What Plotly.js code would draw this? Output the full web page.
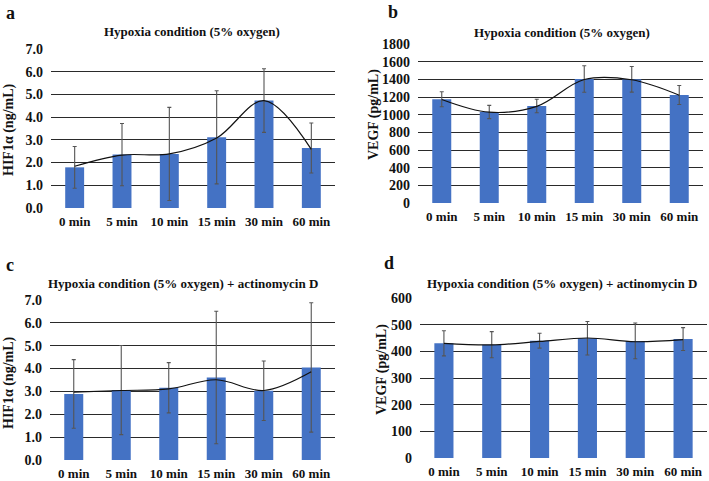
<!DOCTYPE html>
<html>
<head>
<meta charset="utf-8">
<script src="https://cdn.plot.ly/plotly-3.0.1.min.js"></script>
<style>
  html, body { margin: 0; padding: 0; background: #fff; }
  #plot { width: 709px; height: 481px; }
</style>
</head>
<body>
<div id="plot"></div>
<script>
// time points shared by all four panels
const times = ['0 min', '5 min', '10 min', '15 min', '30 min', '60 min'];

// a: HIF1a, hypoxia
const hifA = [1.79, 2.35, 2.38, 3.11, 4.73, 2.64];
const hifAErr = [0.92, 1.37, 2.05, 2.05, 1.40, 1.10];
const hifALine = [1.84, 2.33, 2.38, 3.08, 4.73, 2.58];

// b: VEGF, hypoxia
const vegfB = [1174, 1030, 1098, 1404, 1400, 1223];
const vegfBErr = [85, 75, 77, 150, 145, 108];
const vegfBLine = [1172, 1028, 1094, 1398, 1395, 1220];

// c: HIF1a, hypoxia + actinomycin D
const hifC = [2.89, 3.06, 3.16, 3.61, 3.03, 4.05];
const hifCErr = [1.50, 1.95, 1.10, 2.90, 1.30, 2.83];
const hifCLine = [2.97, 3.04, 3.11, 3.51, 3.04, 3.86];

// d: VEGF, hypoxia + actinomycin D
const vegfD = [430, 425, 440, 449, 439, 446];
const vegfDErr = [47, 49, 28, 63, 67, 43];
const vegfDLine = [430, 424, 437, 450, 436, 444];

const barColor = '#4472c4';
const serif = 'Liberation Serif, Times New Roman, serif';

function bars(y, err, xa, ya) {
  return {
    type: 'bar', x: times, y: y, xaxis: xa, yaxis: ya,
    marker: { color: barColor },
    error_y: { type: 'data', array: err, visible: true, color: '#555', thickness: 1.1, width: 2 },
    hoverinfo: 'y'
  };
}
function trend(y, xa, ya) {
  return {
    type: 'scatter', mode: 'lines', x: times, y: y, xaxis: xa, yaxis: ya,
    line: { color: '#111', width: 1.2, shape: 'spline', smoothing: 1 },
    hoverinfo: 'skip'
  };
}

const data = [
  bars(hifA, hifAErr, 'x', 'y'), trend(hifALine, 'x', 'y'),
  bars(vegfB, vegfBErr, 'x2', 'y2'), trend(vegfBLine, 'x2', 'y2'),
  bars(hifC, hifCErr, 'x3', 'y3'), trend(hifCLine, 'x3', 'y3'),
  bars(vegfD, vegfDErr, 'x4', 'y4'), trend(vegfDLine, 'x4', 'y4')
];

const xFont = { family: serif, size: 13, color: '#111', weight: 'bold' };
const yFont = { family: serif, size: 14, color: '#111', weight: 'bold' };

function xAxis(domain, anchor) {
  return {
    domain: domain, anchor: anchor, showgrid: false, zeroline: false,
    showline: false, ticks: '', tickfont: xFont, ticklabelstandoff: 4,
    fixedrange: true
  };
}
function yAxis(domain, anchor, range, dtick, fmt) {
  return {
    domain: domain, anchor: anchor, range: range, dtick: dtick, tickformat: fmt,
    showgrid: true, gridcolor: '#2a2a2a', gridwidth: 1, zeroline: false,
    showline: false, ticks: '', tickfont: yFont, ticklabelstandoff: 7,
    fixedrange: true
  };
}

function label(text, x, y, size, angle) {
  return {
    text: text, x: x, y: y, xref: 'paper', yref: 'paper',
    xanchor: 'center', yanchor: 'middle', showarrow: false,
    textangle: angle || 0,
    font: { family: serif, size: size, color: '#111', weight: 'bold' }
  };
}
const W = 709, H = 481;
const px = v => v / W, py = v => 1 - v / H;

const layout = {
  width: W, height: H,
  margin: { l: 0, r: 0, t: 0, b: 0 },
  paper_bgcolor: '#fff', plot_bgcolor: '#fff',
  showlegend: false, bargap: 0.6,
  xaxis: xAxis([px(51), px(335)], 'y'),
  yaxis: yAxis([py(208), py(49)], 'x', [0, 7], 1, '.1f'),
  xaxis2: xAxis([px(418), px(703)], 'y2'),
  yaxis2: yAxis([py(203), py(44)], 'x2', [0, 1800], 200, 'd'),
  xaxis3: xAxis([px(50), px(335)], 'y3'),
  yaxis3: yAxis([py(460), py(300)], 'x3', [0, 7], 1, '.1f'),
  xaxis4: xAxis([px(420), px(707)], 'y4'),
  yaxis4: yAxis([py(458), py(298)], 'x4', [0, 600], 100, 'd'),
  annotations: [
    label('a', px(10), py(13), 18),
    label('b', px(393), py(12), 18),
    label('c', px(10), py(265), 18),
    label('d', px(389), py(263), 18),
    label('Hypoxia condition (5% oxygen)', px(192), py(31), 13),
    label('Hypoxia condition (5% oxygen)', px(562), py(33), 13),
    label('Hypoxia condition (5% oxygen) + actinomycin D', px(183), py(283), 13),
    label('Hypoxia condition (5% oxygen) + actinomycin D', px(562), py(283), 13),
    label('HIF1α (ng/mL)', px(9), py(130), 14, -90),
    label('VEGF (pg/mL)', px(374), py(114), 14, -90),
    label('HIF1α (ng/mL)', px(9), py(383), 14, -90),
    label('VEGF (pg/mL)', px(382), py(370), 14, -90)
  ]
};

Plotly.newPlot('plot', data, layout, { displayModeBar: false, staticPlot: true });
</script>
</body>
</html>
